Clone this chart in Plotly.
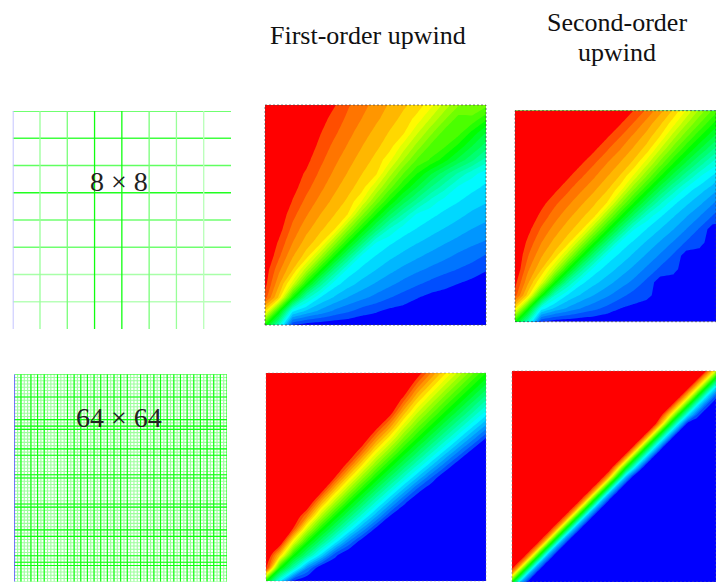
import numpy as np
import plotly.graph_objects as go

# contour field values, rows bottom -> top
fou8 = [
[.5,.3,.05,.03,.025,.02,.02,.015,.015,.01,.01,.005,.005,.005,.005,0,0],
[.75,.5,.23,.18,.144,.112,.09,.067,.055,.04,.035,.03,.025,.02,.015,.01,.005],
[.9,.77,.5,.31,.223,.185,.153,.13,.108,.087,.069,.052,.038,.035,.03,.025,.015],
[.93,.82,.69,.5,.35,.24,.205,.176,.151,.129,.108,.09,.074,.06,.05,.04,.035],
[.94,.856,.777,.65,.5,.36,.245,.215,.189,.165,.144,.126,.11,.095,.082,.066,.052],
[.96,.888,.815,.76,.64,.5,.37,.248,.222,.198,.178,.16,.143,.128,.111,.10,.08],
[.965,.91,.847,.795,.755,.63,.5,.38,.26,.23,.21,.191,.175,.157,.142,.126,.115],
[.97,.933,.87,.824,.785,.752,.62,.5,.39,.292,.24,.222,.203,.187,.17,.154,.14],
[.97,.945,.892,.849,.811,.778,.74,.61,.5,.40,.32,.248,.232,.214,.198,.18,.167],
[.975,.965,.913,.871,.835,.802,.77,.708,.60,.5,.415,.344,.28,.241,.225,.206,.192],
[.98,.965,.931,.892,.856,.822,.79,.76,.68,.585,.5,.43,.36,.305,.25,.233,.216],
[.985,.97,.935,.91,.874,.84,.809,.778,.752,.656,.57,.5,.435,.375,.32,.27,.238],
[.99,.975,.962,.926,.89,.857,.825,.797,.768,.72,.64,.565,.53,.48,.42,.37,.31],
[.99,.98,.965,.94,.905,.872,.843,.813,.786,.759,.695,.625,.56,.54,.49,.43,.38],
[.995,.985,.97,.95,.918,.889,.858,.83,.802,.775,.75,.68,.615,.555,.55,.49,.43],
[1,.99,.975,.96,.934,.90,.874,.846,.82,.794,.767,.73,.67,.61,.555,.56,.51],
[1,.995,.985,.97,.948,.92,.885,.86,.833,.808,.784,.762,.72,.66,.608,.6,.58],
]
sou8 = [
[.5,.3,.05,.03,.025,.02,.02,.015,.015,.01,.01,0,0,0,0,0,0],
[.75,.5,.243,.182,.147,.118,.095,.073,.05,.04,.02,.01,0,0,0,0,0],
[.9,.757,.5,.297,.219,.184,.153,.125,.097,.07,.065,.025,.02,.01,0,0,0],
[.93,.818,.703,.5,.334,.234,.2,.169,.138,.11,.075,.03,.03,.02,.01,0,0],
[.96,.853,.781,.666,.5,.353,.242,.209,.177,.145,.112,.078,.065,.025,.02,.01,0],
[.96,.882,.816,.766,.647,.5,.363,.246,.214,.181,.148,.114,.08,.03,.03,.02,.01],
[.965,.905,.847,.8,.758,.637,.5,.37,.25,.217,.183,.15,.116,.08,.065,.025,.02],
[.97,.927,.875,.831,.791,.754,.63,.5,.377,.26,.221,.188,.155,.118,.08,.03,.03],
[.975,.95,.903,.862,.823,.786,.75,.623,.5,.385,.28,.228,.192,.156,.12,.082,.065],
[.98,.96,.93,.89,.855,.819,.783,.74,.615,.5,.396,.30,.233,.197,.163,.123,.085],
[.985,.975,.935,.925,.888,.852,.817,.779,.72,.604,.5,.402,.314,.242,.204,.17,.127],
[.99,.98,.975,.97,.922,.886,.85,.812,.772,.70,.598,.5,.411,.331,.26,.217,.177],
[1,.99,.98,.97,.935,.92,.884,.845,.808,.767,.686,.589,.5,.42,.347,.28,.228],
[1,1,.99,.98,.975,.97,.92,.882,.844,.803,.758,.669,.58,.5,.427,.359,.296],
[1,1,1,.99,.98,.97,.935,.918,.88,.837,.796,.74,.653,.573,.5,.432,.37],
[1,1,1,1,.99,.98,.975,.97,.917,.877,.83,.783,.72,.641,.568,.5,.436],
[1,1,1,1,1,.99,.98,.97,.935,.915,.873,.823,.772,.704,.63,.564,.5],
]
fou64 = [
[.5,.235,.03]+[0]*14,
[.957,.5,.3125,.125,.008]+[0]*12,
[1,.781,.5,.355,.21,.065]+[0]*11,
[1,.978,.705,.5,.371,.243,.114,.015]+[0]*9,
[1,1,.909,.673,.5,.382,.263,.145,.036]+[0]*8,
[1,1,.988,.846,.65,.5,.3875,.275,.1625,.05]+[0]*7,
[1,1,1,.978,.80,.641,.5,.39,.28,.17,.061]+[0]*6,
[1,1,1,1,.95,.781,.632,.5,.393,.286,.179,.071,.01]+[0]*4,
[1,1,1,1,1,.922,.765,.625,.5,.398,.295,.193,.091,.008]+[0]*3,
[1]*6+[.897,.75,.615,.5,.402,.304,.207,.109,.022,0,0],
[1]*6+[.992,.875,.731,.6125,.5,.406,.3125,.219,.125,.036,0],
[1]*7+[.978,.846,.725,.6,.5,.41,.32,.23,.14,.05],
[1]*8+[.957,.8375,.7,.59,.5,.413,.327,.24,.154],
[1]*9+[.95,.8,.68,.587,.5,.417,.333,.25],
[1]*10+[.9,.77,.673,.583,.5,.418,.336],
[1]*10+[.985,.86,.76,.667,.582,.5,.42],
[1]*11+[.95,.846,.75,.664,.58,.5],
]
sou64 = [
[.5,.17]+[0]*23,
[.83,.5,.17]+[0]*22,
[1,.83,.5,.17]+[0]*21,
[1,1,.83,.5,.17]+[0]*20,
[1]*3+[.83,.5,.17]+[0]*19,
[1]*4+[.83,.5,.17]+[0]*18,
[1]*5+[.82,.5,.18]+[0]*17,
[1]*6+[.82,.5,.18]+[0]*16,
[1]*7+[.82,.5,.18]+[0]*15,
[1]*8+[.82,.5,.18]+[0]*14,
[1]*9+[.82,.5,.18]+[0]*13,
[1]*10+[.82,.5,.18]+[0]*12,
[1]*11+[.82,.5,.18]+[0]*11,
[1]*12+[.78,.47,.22,.02]+[0]*9,
[1]*13+[.78,.47,.22,.02]+[0]*8,
[1]*14+[.78,.47,.22,.02]+[0]*7,
[1]*15+[.78,.47,.22,.02]+[0]*6,
[1]*16+[.78,.47,.22,.02]+[0]*5,
[1]*17+[.78,.47,.22,.02]+[0]*4,
[1]*17+[.93,.74,.47,.23,.08]+[0]*3,
[1]*18+[.93,.74,.47,.23,.08]+[0]*2,
[1]*19+[.93,.74,.47,.23,.08]+[0]*1,
[1]*20+[.93,.74,.47,.23,.08],
[1]*21+[.93,.74,.47,.23],
[1]*22+[.93,.74,.47],
]

# mesh line colours by line index
mesh8_v = ['#c4c4ff','#98ff98','#78ff78','#10ff10','#10ff10','#78ff78','#98ff98','#b8ffb8']
mesh8_h = ['#ffffff','#b8ffb8','#a8ffa8','#70ff70','#70ff70','#20ff20','#60ff60','#40ff40','#40ff40']
mesh64_strong_v = [2,5,7,9,13,16,18,20,22,24,26,28,30,32,34,38,40,42,44,46,48,50,52,54,56,58,60,62,64]
mesh64_strong_h = [0,7,14,16,17,23,25,31,32,40,41,48,50,56,58,59]

titles = ['First-order upwind', 'Second-order', 'upwind']
mesh_labels = ['8 × 8', '64 × 64']

W, H = 716, 582
def dx(a, b): return [a / W, min(b / W, 1)]
def dy(a, b): return [1 - b / H, 1 - a / H]

RAINBOW = [[0, '#0000ff'], [.02, '#0000ff'], [.04, '#0055ff'], [.237, '#00ffff'], [.5, '#00ff00'],
           [.763, '#ffff00'], [.96, '#ff5500'], [.98, '#ff0000'], [1, '#ff0000']]

fig = go.Figure()
layout = dict(width=W, height=H, margin=dict(l=0, r=0, t=0, b=0), autosize=False,
              paper_bgcolor='white', plot_bgcolor='white', showlegend=False)

panels = [
    ('', dx(12.7, 231), dy(111, 329), [0, 8], [0, 8]),
    ('2', dx(265, 486), dy(105, 325), [0, 1], [0, 1]),
    ('3', dx(515, 716), dy(110.7, 321.7), [0, .953], [0, 1]),
    ('4', dx(14.3, 227), dy(374.3, 581.7), [0, 64], [0, 64]),
    ('5', dx(266, 486), dy(373, 581), [0, 1], [0, 1]),
    ('6', dx(512, 716), dy(371, 582), [0, .967], [0, 1]),
]
for s, xd, yd, xr, yr in panels:
    layout['xaxis' + s] = dict(domain=xd, range=xr, visible=False, fixedrange=True)
    layout['yaxis' + s] = dict(domain=yd, range=yr, visible=False, fixedrange=True,
                               anchor='x' + s)
    layout['xaxis' + s]['anchor'] = 'y' + s

def mesh_line(xs, ys, color, width, s):
    fig.add_trace(go.Scatter(x=xs, y=ys, mode='lines', xaxis='x' + s, yaxis='y' + s,
                             cliponaxis=False,
                             line=dict(color=color, width=width), hoverinfo='skip'))

# 8 x 8 mesh
for i, c in enumerate(mesh8_h):
    if i:
        mesh_line([0, 8], [i, i], c, 1.3, '')
for i, c in enumerate(mesh8_v):
    mesh_line([i, i], [0, 8], c, 2 if i == 0 else 1.3, '')

# 64 x 64 mesh
pale_x, pale_y, st_x, st_y = [], [], [], []
for i in range(1, 64):
    pale_x += [i, i, None]; pale_y += [0, 64, None]
mesh_line(pale_x, pale_y, '#9cff9c', 1.1, '4')
pale_x, pale_y = [], []
for j in range(0, 64):
    pale_x += [0, 64, None]; pale_y += [j, j, None]
mesh_line(pale_x, pale_y, '#9cff9c', 1.1, '4')
for i in mesh64_strong_v:
    st_x += [i, i, None]; st_y += [0, 64, None]
for j in mesh64_strong_h:
    st_x += [0, 64, None]; st_y += [64 - j, 64 - j, None]
mesh_line(st_x, st_y, '#10ff10', 1.1, '4')
mesh_line([0, 0], [0, 64], '#3c3cff', 1.5, '4')

for s, z, sm in (('2', fou8, 0), ('3', sou8, 0), ('5', fou64, 1), ('6', sou64, 0)):
    n = len(z)
    g = [i / (n - 1) for i in range(n)]
    fig.add_trace(go.Contour(x=g, y=g, z=z, xaxis='x' + s, yaxis='y' + s,
                             zmin=0, zmax=1, colorscale=RAINBOW, showscale=False,
                             autocontour=False, hoverinfo='skip',
                             contours=dict(start=.05, end=.95, size=.03462, coloring='fill',
                                           showlines=False),
                             line=dict(width=0, smoothing=sm)))

shapes = []
for s, col in (('2', 'rgba(70,70,70,.7)'), ('3', 'rgba(70,70,70,.7)'),
               ('5', 'rgba(120,120,120,.4)'), ('6', 'rgba(120,120,120,.5)')):
    shapes.append(dict(type='rect', xref='x%s domain' % s, yref='y%s domain' % s,
                       x0=0, x1=1, y0=0, y1=1,
                       line=dict(color=col, width=1, dash='2px,2px')))
layout['shapes'] = shapes

def note(text, px, py, size, fam, color='#111'):
    return dict(text=text, x=px / W, y=1 - py / H, xref='paper', yref='paper',
                showarrow=False, xanchor='center', yanchor='middle',
                font=dict(family=fam, size=size, color=color))
layout['annotations'] = [
    note(titles[0], 368, 35, 26, 'Liberation Serif'),
    note(titles[1], 617, 23, 26, 'Liberation Serif'),
    note(titles[2], 617, 52, 26, 'Liberation Serif'),
    note(mesh_labels[0], 119, 181, 28, 'Liberation Serif', '#222'),
    note(mesh_labels[1], 119, 417, 28, 'Liberation Serif', '#222'),
]
fig.update_layout(**layout)
fig.write_html("out.html", config=dict(displayModeBar=False),
               post_script="document.body.style.margin='0';")
